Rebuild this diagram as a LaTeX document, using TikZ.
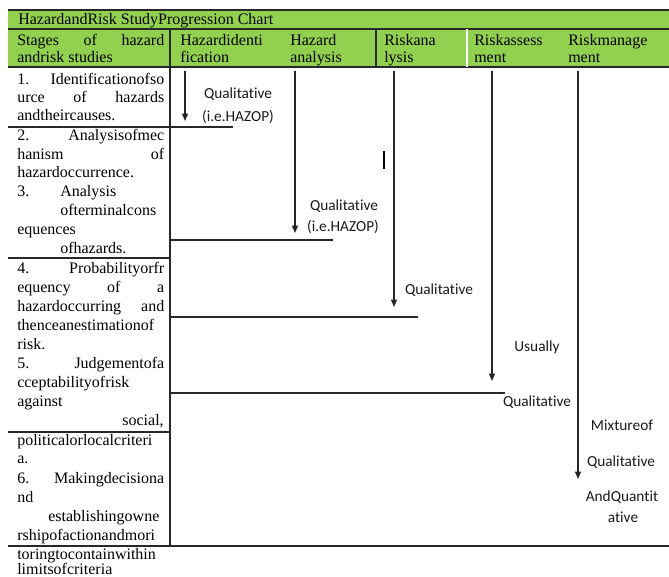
\documentclass[tikz,border=0pt]{standalone}
\usepackage{fontspec}
\setmainfont[Ligatures=NoCommon]{Liberation Serif}
\newfontfamily\labfont[Ligatures=NoCommon]{Carlito}
\usetikzlibrary{arrows.meta}
\definecolor{headgreen}{RGB}{146,208,80}
\definecolor{rulegray}{RGB}{40,40,40}
\newlength\cw
\setlength\cw{110.25pt}
\newcommand\jline[1]{\makebox[\cw][s]{#1}}
\begin{document}
\begin{tikzpicture}[x=0.75pt,y=-0.75pt,
  txt/.style={anchor=base west,inner sep=0pt,font=\fontsize{12}{14}\selectfont},
  txtr/.style={anchor=base east,inner sep=0pt,font=\fontsize{12}{14}\selectfont},
  lab/.style={anchor=base,inner sep=0pt,font=\labfont\fontsize{11.5}{14}\selectfont,text=black!90},
  rule/.style={draw=rulegray,line width=1.1pt},
  flow/.style={draw=black!85,line width=1pt,-{Triangle[width=4.5pt,length=5.5pt]}}]
\useasboundingbox (0,0) rectangle (669,577);

% header band
\fill[headgreen] (8,10) rectangle (669,67);
\draw[rule] (8,10) -- (669,10);
\draw[rule] (8,29) -- (669,29);
\draw[rule] (8,67) -- (669,67);
\draw[rule] (376,29) -- (376,67);
\draw[white,line width=1pt] (467,29) -- (467,67);

\node[txt] (title) at (18,25) {HazardandRisk StudyProgression Chart};
\node[txt] (h1a) at (17,46) {\jline{Stages of hazard}};
\node[txt] (h1b) at (17,63) {andrisk studies};
\node[txt] (h2a) at (180,46) {Hazardidenti};
\node[txt] (h2b) at (180,63) {fication};
\node[txt] (h3a) at (290,46) {Hazard};
\node[txt] (h3b) at (290,63) {analysis};
\node[txt] (h4a) at (384,46) {Riskana};
\node[txt] (h4b) at (384,63) {lysis};
\node[txt] (h5a) at (474,46) {Riskassess};
\node[txt] (h5b) at (474,63) {ment};
\node[txt] (h6a) at (568,46) {Riskmanage};
\node[txt] (h6b) at (568,63) {ment};

% table body rules
\draw[rule] (170,29) -- (170,546);
\draw[rule] (8,127) -- (233,127);
\draw[rule] (170,240) -- (333,240);
\draw[rule] (8,258) -- (170,258);
\draw[rule] (170,317) -- (418,317);
\draw[rule] (170,393) -- (505,393);
\draw[rule] (8,432) -- (170,432);
\draw[rule] (8,546) -- (669,546);

% stages column
\node[txt] (s1a) at (17,85) {\jline{1. Identificationofso}};
\node[txt] (s1b) at (17,103) {\jline{urce of hazards}};
\node[txt] (s1c) at (17,121) {andtheircauses.};
\node[txt] (s2a) at (17,141) {\jline{2. Analysisofmec}};
\node[txt] (s2b) at (17,160) {\jline{hanism of}};
\node[txt] (s2c) at (17,178) {hazardoccurrence.};
\node[txt] (s3a) at (17,197) {3.};
\node[txt] (s3b) at (60,197) {Analysis};
\node[txt] (s3c) at (60,216) {ofterminalcons};
\node[txt] (s3d) at (17,235) {equences};
\node[txt] (s3e) at (60,254) {ofhazards.};
\node[txt] (s4a) at (17,274) {\jline{4. Probabilityorfr}};
\node[txt] (s4b) at (17,293) {\jline{equency of a}};
\node[txt] (s4c) at (17,312) {\jline{hazardoccurring and}};
\node[txt] (s4d) at (17,331) {thenceanestimationof};
\node[txt] (s4e) at (17,350) {risk.};
\node[txt] (s5a) at (17,369) {\jline{5. Judgementofa}};
\node[txt] (s5b) at (17,388) {cceptabilityofrisk};
\node[txt] (s5c) at (17,407) {against};
\node[txtr] (s5d) at (164,426) {social,};
\node[txt] (s5e) at (17,446) {politicalorlocalcriteri};
\node[txt] (s5f) at (17,464) {a.};
\node[txt] (s6a) at (17,484) {\jline{6. Makingdecisiona}};
\node[txt] (s6b) at (17,503) {nd};
\node[txt] (s6c) at (48,522) {establishingowne};
\node[txt] (s6d) at (17,541) {rshipofactionandmori};
\node[txt] (s6e) at (17,560) {toringtocontainwithin};
\node[txt] (s6f) at (17,575) {limitsofcriteria};

% progression arrows
\coordinate (a1s) at (185,71);  \coordinate (a1e) at (185,121);
\coordinate (a2s) at (295,71);  \coordinate (a2e) at (295,233);
\coordinate (a3s) at (394,71);  \coordinate (a3e) at (394,307);
\coordinate (a4s) at (492,71);  \coordinate (a4e) at (492,381);
\coordinate (a5s) at (578,71);  \coordinate (a5e) at (578,479);
\draw[flow] (a1s) -- (a1e);
\draw[flow] (a2s) -- (a2e);
\draw[flow] (a3s) -- (a3e);
\draw[flow] (a4s) -- (a4e);
\draw[flow] (a5s) -- (a5e);

% short bar
\coordinate (bart) at (384,151);
\coordinate (barb) at (384,169);
\draw[black,line width=2pt] (bart) -- (barb);

% arrow labels
\node[lab] (q1a) at (238,99) {Qualitative};
\node[lab] (q1b) at (238,122) {(i.e.HAZOP)};
\node[lab] (q2a) at (344,211) {Qualitative};
\node[lab] (q2b) at (343,232) {(i.e.HAZOP)};
\node[lab] (q3) at (439,295) {Qualitative};
\node[lab] (u4) at (537,352) {Usually};
\node[lab] (q4) at (537,407) {Qualitative};
\node[lab] (m5a) at (622,431) {Mixtureof};
\node[lab] (m5b) at (621,467) {Qualitative};
\node[lab] (m5c) at (622,502) {AndQuantit};
\node[lab] (m5d) at (623,523) {ative};
\end{tikzpicture}
\end{document}
